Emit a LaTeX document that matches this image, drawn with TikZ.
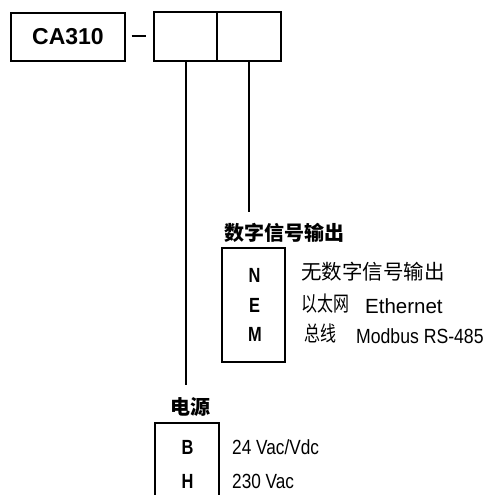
\documentclass[tikz,border=0pt]{standalone}
\usepackage{fontspec}
\usepackage{graphicx}
\setmainfont{Liberation Sans}
\newfontfamily\cjk{Noto Sans CJK SC}
\newcommand{\sqz}[2]{\scalebox{#1}[1]{#2}}
\begin{document}
\begin{tikzpicture}[x=1pt,y=-1pt,
  box/.style={draw, line width=1.2pt, inner sep=0pt},
  conn/.style={line width=1.1pt},
  code/.style={anchor=base, inner sep=0pt, font=\bfseries\fontsize{20.5}{20.5}\selectfont},
  desc/.style={anchor=base west, inner sep=0pt, font=\fontsize{20.5}{20.5}\selectfont},
  cjkdesc/.style={anchor=base west, inner sep=0pt, font=\cjk\fontsize{21}{21}\selectfont},
  title/.style={inner sep=0pt, font=\cjk\bfseries\fontsize{20}{20}\selectfont}]
\useasboundingbox (0,0) rectangle (484,495);
% top row
\node[box, minimum width=114, minimum height=48] (model) at (68,37) {\fontsize{23}{23}\selectfont\bfseries CA310};
\coordinate (dashL) at (131.5,36);
\coordinate (dashR) at (145.5,36);
\draw[line width=1.2pt] (dashL) -- (dashR);
\node[box, minimum width=63, minimum height=49] (slotA) at (185.5,36.5) {};
\node[box, minimum width=64, minimum height=49] (slotB) at (249,36.5) {};
\coordinate (pwrEnd) at (186,385);
\coordinate (sigEnd) at (249,212);
\draw[conn] (slotA.south -| pwrEnd) -- (pwrEnd);
\draw[conn] (slotB.south -| sigEnd) -- (sigEnd);
% digital signal output
\node[title, anchor=base west] (sigTitle) at (224,240.5) {数字信号输出};
\node[box, minimum width=63, minimum height=114] (sigBox) at (253.5,305) {};
\node[code] (codeN) at (254.5,282) {\sqz{0.8}{N}};
\node[code] (codeE) at (254.5,312) {\sqz{0.8}{E}};
\node[code] (codeM) at (255,341.5) {\sqz{0.8}{M}};
\node[anchor=base west, inner sep=0pt, font=\cjk\fontsize{20.5}{20.5}\selectfont] (descN) at (301,279) {无数字信号输出};
\node[cjkdesc] (descEa) at (301,311.5) {\sqz{0.76}{以太网}};
\node[desc] (descEb) at (365,313) {Ethernet};
\node[cjkdesc] (descMa) at (304,341.5) {\sqz{0.76}{总线}};
\node[desc] (descMb) at (356,343) {\sqz{0.86}{Modbus RS-485}};
% power
\node[title, anchor=base] (pwrTitle) at (190,414) {电源};
\coordinate (pwrBL) at (155,497);
\coordinate (pwrTL) at (155,423);
\coordinate (pwrTR) at (219,423);
\coordinate (pwrBR) at (219,497);
\draw[line width=1.2pt] (pwrBL) -- (pwrTL) -- (pwrTR) -- (pwrBR);
\node[code] (codeB) at (187.5,454) {\sqz{0.8}{B}};
\node[code] (codeH) at (187.5,488) {\sqz{0.8}{H}};
\node[desc] (descB) at (232,454) {\sqz{0.84}{24 Vac/Vdc}};
\node[desc] (descH) at (232,488) {\sqz{0.84}{230 Vac}};
\end{tikzpicture}
\end{document}
